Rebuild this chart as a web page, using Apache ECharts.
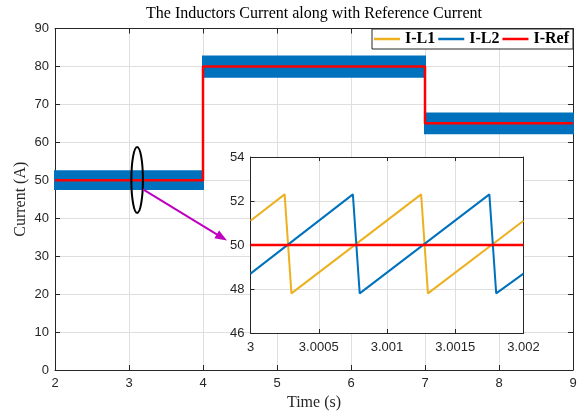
<!DOCTYPE html>
<html>
<head>
<meta charset="utf-8">
<script src="https://cdn.jsdelivr.net/npm/echarts@6/dist/echarts.min.js"></script>
<style>
  html, body { margin: 0; padding: 0; background: #fff; }
  #chart { width: 582px; height: 412px; }
</style>
</head>
<body>
<div id="chart"></div>
<script>
// Whole run, 2 s .. 9 s: reference current steps
const refTime = [2, 4, 4, 7, 7, 9];
const refValue = [50, 50, 80, 80, 65, 65];

// Ripple envelope of the inductor currents on each interval (A)
const envStart = [2, 4, 7];
const envEnd = [4, 7, 9];
const envLow = [47.7, 77.3, 62.4];
const envHigh = [52.4, 82.6, 67.6];

// Close-up window, 3 s .. 3.002 s
const zoomL1Time = [3, 3.00025, 3.0003, 3.00125, 3.0013, 3.002];
const zoomL1Value = [51.1, 52.3, 47.8, 52.3, 47.8, 51.1];
const zoomL2Time = [3, 3.00075, 3.0008, 3.00175, 3.0018, 3.002];
const zoomL2Value = [48.7, 52.3, 47.8, 52.3, 47.8, 48.7];
const zoomRefTime = [3, 3.002];
const zoomRefValue = [50, 50];

// Axis ranges: [min, max, step]
const mainXTicks = [2, 9, 1];
const mainYTicks = [0, 90, 10];
const zoomXTicks = [3, 3.002, 0.0005];
const zoomYTicks = [46, 54, 2];

const seriesNames = ['I-L1', 'I-L2', 'I-Ref'];

// Callout: ellipse around the close-up region and arrow towards the inset
const markCenter = [3.11, 50.1];
const markHalf = [0.078, 8.7];
const arrowFrom = [3.19, 47.6];
const arrowTo = [4.324, 34.1];

const C_L1 = '#EDB120';
const C_L2 = '#0072BD';
const C_REF = '#FF0000';
const C_MAG = '#BF00BF';
const AX = '#262626';
const GRID = '#dfdfdf';
const SANS = 'Liberation Sans';
const SERIF = 'Liberation Serif';

const zip = (a, b) => a.map((v, i) => [v, b[i]]);

function axisBase(range, gridIndex, pos, showLabels, z) {
  return {
    type: 'value',
    gridIndex: gridIndex,
    position: pos,
    min: range[0], max: range[1], interval: range[2],
    z: z,
    axisLine: { show: true, onZero: false, lineStyle: { color: AX, width: 1 } },
    axisTick: { show: true, inside: true, length: 5, lineStyle: { color: AX, width: 1 } },
    axisLabel: { show: showLabels, color: AX, fontFamily: SANS, fontSize: 13 },
    splitLine: { show: showLabels, lineStyle: { color: GRID, width: 1 } }
  };
}

function fmtZoomX(v) {
  let s = (+v).toFixed(4);
  s = s.replace(/0+$/, '').replace(/\.$/, '');
  return s;
}

const mainGrid = { left: 55, top: 28.5, width: 518, height: 341.5 };
const zoomGrid = { left: 250.5, top: 157, width: 273, height: 176 };

const xMainBottom = axisBase(mainXTicks, 0, 'bottom', true, 0);
xMainBottom.axisLabel.margin = 7;
xMainBottom.name = 'Time (s)';
xMainBottom.nameLocation = 'middle';
xMainBottom.nameGap = 24;
xMainBottom.nameTextStyle = { fontFamily: SERIF, fontSize: 16, color: AX };
const xMainTop = axisBase(mainXTicks, 0, 'top', false, 0);

const yMainLeft = axisBase(mainYTicks, 0, 'left', true, 0);
yMainLeft.axisLabel.margin = 6;
yMainLeft.name = 'Current (A)';
yMainLeft.nameLocation = 'middle';
yMainLeft.nameGap = 26;
yMainLeft.nameMoveOverlap = false;
yMainLeft.nameTextStyle = { fontFamily: SERIF, fontSize: 16, color: AX };
const yMainRight = axisBase(mainYTicks, 0, 'right', false, 0);

const xZoomBottom = axisBase(zoomXTicks, 1, 'bottom', true, 3);
xZoomBottom.axisLabel.margin = 8;
xZoomBottom.axisLabel.formatter = fmtZoomX;
xZoomBottom.axisTick.length = 4;
const xZoomTop = axisBase(zoomXTicks, 1, 'top', false, 3);
xZoomTop.axisTick.length = 4;
const yZoomLeft = axisBase(zoomYTicks, 1, 'left', true, 3);
yZoomLeft.axisLabel.margin = 6;
yZoomLeft.axisTick.length = 4;
const yZoomRight = axisBase(zoomYTicks, 1, 'right', false, 3);
yZoomRight.axisTick.length = 4;

const envelopeData = envStart.map((s, i) => [s, envEnd[i], envLow[i], envHigh[i]]);

const chart = echarts.init(document.getElementById('chart'), null, { renderer: 'canvas' });

chart.setOption({
  animation: false,
  backgroundColor: '#fff',
  graphic: [{
    type: 'text',
    x: 314, y: 6,
    z: 20,
    style: {
      text: 'The Inductors Current along with Reference Current',
      font: '16px "Liberation Serif"',
      fill: '#000',
      align: 'center',
      textAlign: 'center',
      verticalAlign: 'top'
    }
  }],
  legend: {
    right: 9, top: 29,
    orient: 'horizontal',
    data: [
      { name: seriesNames[0], itemStyle: { color: C_L1 } },
      { name: seriesNames[1], itemStyle: { color: C_L2 } },
      { name: seriesNames[2], itemStyle: { color: C_REF } }
    ],
    icon: 'rect',
    itemWidth: 26, itemHeight: 2.5, itemGap: 3,
    padding: [2, 4, 2, 2],
    backgroundColor: '#fff',
    borderColor: AX, borderWidth: 1, borderRadius: 0,
    textStyle: { fontFamily: SERIF, fontWeight: 'bold', fontSize: 16, color: '#000' },
    selectedMode: false,
    z: 20
  },
  grid: [
    Object.assign({ show: false, containLabel: false, outerBoundsMode: 'none' }, mainGrid),
    Object.assign({ show: true, backgroundColor: '#fff', borderWidth: 0, z: 2, containLabel: false, outerBoundsMode: 'none' }, zoomGrid)
  ],
  xAxis: [xMainBottom, xMainTop, xZoomBottom, xZoomTop],
  yAxis: [yMainLeft, yMainRight, yZoomLeft, yZoomRight],
  series: [
    {
      // ripple band of the phase currents over the whole run
      name: seriesNames[1],
      type: 'custom',
      xAxisIndex: 0, yAxisIndex: 0,
      z: 2,
      data: envelopeData,
      renderItem: function (params, api) {
        const p0 = api.coord([api.value(0), api.value(3)]);
        const p1 = api.coord([api.value(1), api.value(2)]);
        return {
          type: 'rect',
          shape: { x: p0[0], y: p0[1], width: p1[0] - p0[0], height: p1[1] - p0[1] },
          style: { fill: C_L2, stroke: C_L2, lineWidth: 2 }
        };
      }
    },
    {
      name: seriesNames[2],
      type: 'line',
      xAxisIndex: 0, yAxisIndex: 0,
      z: 3,
      data: zip(refTime, refValue),
      showSymbol: false, symbol: 'none',
      lineStyle: { color: C_REF, width: 2.5 },
      itemStyle: { color: C_REF }
    },
    {
      name: 'callout',
      type: 'custom',
      xAxisIndex: 0, yAxisIndex: 0,
      z: 6,
      clip: false,
      data: [markCenter],
      renderItem: function (params, api) {
        const c = api.coord(markCenter);
        const e = api.coord([markCenter[0] + markHalf[0], markCenter[1] + markHalf[1]]);
        const rx = Math.abs(e[0] - c[0]);
        const ry = Math.abs(e[1] - c[1]);
        const a = api.coord(arrowFrom);
        const b = api.coord(arrowTo);
        const dx = b[0] - a[0], dy = b[1] - a[1];
        const len = Math.sqrt(dx * dx + dy * dy);
        const ux = dx / len, uy = dy / len;
        const headLen = 12, headHalf = 4.5;
        const bx = b[0] - ux * headLen, by = b[1] - uy * headLen;
        const nx = -uy, ny = ux;
        return {
          type: 'group',
          children: [
            {
              type: 'ellipse',
              shape: { cx: c[0], cy: c[1], rx: rx, ry: ry },
              style: { fill: 'none', stroke: '#000', lineWidth: 2 }
            },
            {
              type: 'line',
              shape: { x1: a[0], y1: a[1], x2: bx + ux * 2, y2: by + uy * 2 },
              style: { stroke: C_MAG, lineWidth: 2 }
            },
            {
              type: 'polygon',
              shape: { points: [[b[0], b[1]], [bx + nx * headHalf, by + ny * headHalf], [bx - nx * headHalf, by - ny * headHalf]] },
              style: { fill: C_MAG }
            }
          ]
        };
      }
    },
    {
      name: seriesNames[0],
      type: 'line',
      xAxisIndex: 2, yAxisIndex: 2,
      z: 7,
      data: zip(zoomL1Time, zoomL1Value),
      showSymbol: false, symbol: 'none',
      lineStyle: { color: C_L1, width: 2 },
      itemStyle: { color: C_L1 }
    },
    {
      name: seriesNames[1],
      type: 'line',
      xAxisIndex: 2, yAxisIndex: 2,
      z: 8,
      data: zip(zoomL2Time, zoomL2Value),
      showSymbol: false, symbol: 'none',
      lineStyle: { color: C_L2, width: 2 },
      itemStyle: { color: C_L2 }
    },
    {
      name: seriesNames[2],
      type: 'line',
      xAxisIndex: 2, yAxisIndex: 2,
      z: 9,
      data: zip(zoomRefTime, zoomRefValue),
      showSymbol: false, symbol: 'none',
      lineStyle: { color: C_REF, width: 2.5 },
      itemStyle: { color: C_REF }
    }
  ]
});
</script>
</body>
</html>
